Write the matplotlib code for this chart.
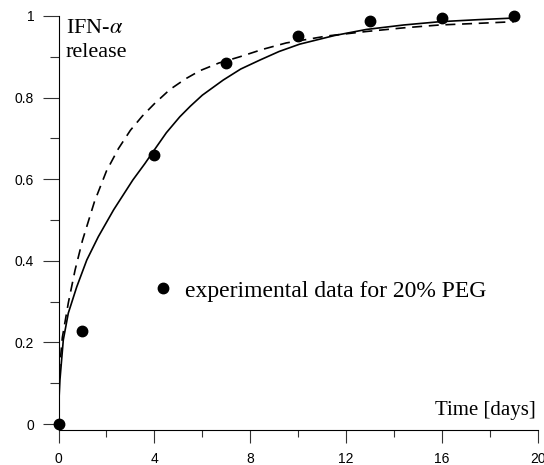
import matplotlib
matplotlib.use("Agg")
import matplotlib.pyplot as plt
from matplotlib.ticker import FixedLocator, FixedFormatter

plt.rcParams['mathtext.fontset'] = 'stix'

# experimental data
exp_days = [0, 1, 4, 7, 10, 13, 16, 19]
exp_release = [0.0, 0.229, 0.66, 0.886, 0.951, 0.988, 0.994, 1.0]

# solid model curve
solid_days = [0, 0.02, 0.06, 0.2, 0.41, 0.76, 1.18, 1.66, 2.3, 3.1, 3.6, 4.0, 4.5,
              5.06, 5.5, 6.0, 6.87, 7.6, 8.4, 9.2, 10.06, 11.5, 12.84, 14.4,
              15.9, 17.5, 19.0]
solid_release = [0.0, 0.06, 0.108, 0.206, 0.272, 0.336, 0.402, 0.459, 0.525, 0.598,
                 0.638, 0.672, 0.714, 0.753, 0.779, 0.806, 0.843, 0.870, 0.892,
                 0.913, 0.931, 0.952, 0.967, 0.978, 0.986, 0.991, 0.995]

# dashed model curve
dash_days = [0, 0.01, 0.02, 0.16, 0.41, 0.69, 1.0, 1.5, 2.0, 2.5, 3.0, 3.5, 4.0,
             4.65, 5.3, 5.9, 6.7, 7.56, 8.5, 9.5, 11.2, 12.84, 14.4, 15.9,
             17.5, 19.0]
dash_release = [0.0, 0.07, 0.12, 0.212, 0.297, 0.377, 0.45, 0.545, 0.62, 0.675,
                0.72, 0.755, 0.785, 0.82, 0.846, 0.866, 0.885, 0.90, 0.918,
                0.934, 0.951, 0.962, 0.971, 0.978, 0.982, 0.986]

y_major = [0, 0.2, 0.4, 0.6, 0.8, 1.0]
y_labels = ["0", "0.2", "0.4", "0.6", "0.8", "1"]
x_major = [0, 4, 8, 12, 16, 20]
x_labels = ["0", "4", "8", "12", "16", "20"]

fig = plt.figure(figsize=(5.44, 4.65), dpi=100)
ax = fig.add_axes([58.5/544, 35/465, (538-58.5)/544, (430-16)/465])

ax.plot(solid_days, solid_release, color='black', lw=1.2, solid_joinstyle='round')
ax.plot(dash_days, dash_release, color='black', lw=1.2, dashes=(6, 4))
pts, = ax.plot(exp_days, exp_release, 'o', color='black', ms=7.5, ls='none',
               clip_on=False, zorder=5)

ax.set_xlim(0, 20)
ax.set_ylim(-0.0147, 1.0)

for s in ['top', 'right']:
    ax.spines[s].set_visible(False)
for s in ['left', 'bottom']:
    ax.spines[s].set_linewidth(0.8)

ax.yaxis.set_major_locator(FixedLocator(y_major))
ax.yaxis.set_major_formatter(FixedFormatter(y_labels))
ax.yaxis.set_minor_locator(FixedLocator([0.1, 0.3, 0.5, 0.7, 0.9]))
ax.xaxis.set_major_locator(FixedLocator(x_major))
ax.xaxis.set_major_formatter(FixedFormatter(x_labels))
ax.xaxis.set_minor_locator(FixedLocator([2, 6, 10, 14, 18]))

ax.tick_params(axis='y', which='major', length=11.5, width=0.8, pad=6.0,
               direction='out', color='#333333', labelcolor='black', labelsize=10)
ax.tick_params(axis='y', which='minor', length=6.5, width=0.8, direction='out',
               color='#333333')
ax.tick_params(axis='x', which='major', length=9.5, width=0.8, pad=6.0,
               direction='out', color='#333333', labelcolor='black', labelsize=10)
ax.tick_params(axis='x', which='minor', length=5, width=0.8, direction='out',
               color='#333333')
for lab in ax.get_xticklabels() + ax.get_yticklabels():
    lab.set_family('Liberation Sans')

serif = 'Liberation Serif'
ax.text(0.31, 0.958, r'IFN-$\alpha$', fontsize=16, family=serif, ha='left', va='baseline')
ax.text(0.31, 0.900, 'release', fontsize=16, family=serif, ha='left', va='baseline')
ax.text(19.92, 0.022, 'Time [days]', fontsize=15, family=serif, ha='right', va='baseline')

leg = ax.legend([pts], ['experimental data for 20% PEG'], loc='center left',
                bbox_to_anchor=(0.193, 0.336), frameon=False, numpoints=1,
                handlelength=1.0, handletextpad=0.45, borderpad=0, borderaxespad=0,
                prop={'family': serif, 'size': 17})

fig.savefig('out.png', dpi=100)
